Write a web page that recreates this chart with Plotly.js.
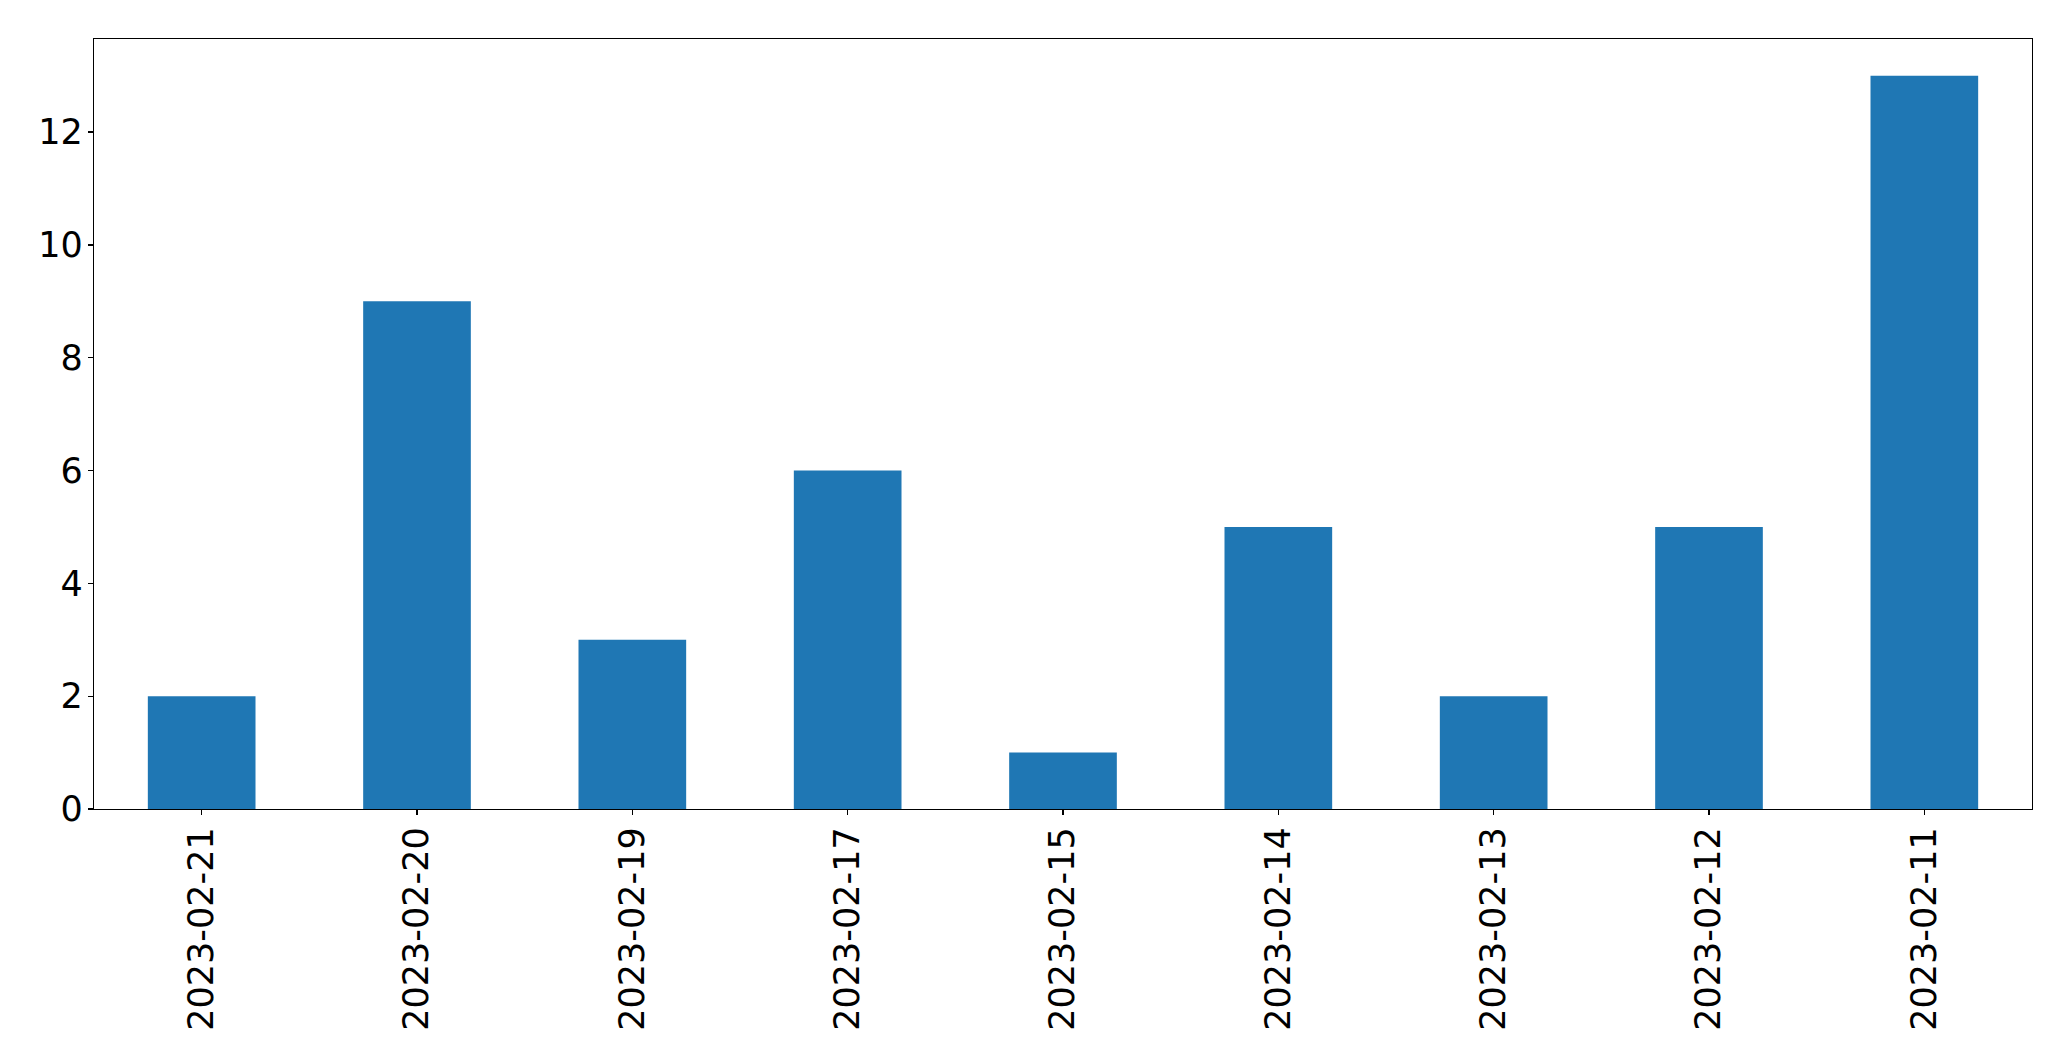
<!DOCTYPE html>
<html>
<head>
<meta charset="utf-8">
<script src="https://cdn.plot.ly/plotly-3.0.1.min.js"></script>
<style>html,body{margin:0;padding:0;background:#fff;}#chart{width:2071px;height:1061px;}</style>
</head>
<body>
<div id="chart"></div>
<script>
const dates = ["2023-02-21","2023-02-20","2023-02-19","2023-02-17","2023-02-15","2023-02-14","2023-02-13","2023-02-12","2023-02-11"];
const counts = [2, 9, 3, 6, 1, 5, 2, 5, 13];
const yTicks = [0, 2, 4, 6, 8, 10, 12];

const trace = {
  type: 'bar',
  x: dates,
  y: counts,
  width: 0.5,
  marker: {color: '#1f77b4', line: {width: 0}},
  hoverinfo: 'x+y'
};

const axisCommon = {
  showline: true, linecolor: '#000', linewidth: 1.3, mirror: true,
  ticks: 'outside', ticklen: 5, tickwidth: 1.3, tickcolor: '#000',
  showgrid: false, zeroline: false,
  tickfont: {family: 'DejaVu Sans', size: 35, color: '#000'}
};

const layout = {
  width: 2071, height: 1061,
  margin: {l: 94, r: 39, t: 39, b: 252, pad: 0},
  paper_bgcolor: '#fff', plot_bgcolor: '#fff',
  showlegend: false,
  font: {family: 'DejaVu Sans', size: 35, color: '#000'},
  xaxis: Object.assign({}, axisCommon, {
    type: 'category', range: [-0.5, dates.length - 0.5], tickangle: -90,
    ticklabelstandoff: -2
  }),
  yaxis: Object.assign({}, axisCommon, {
    range: [0, 13.65], tickvals: yTicks, ticktext: yTicks.map(String),
    ticklabelstandoff: -2
  })
};

Plotly.newPlot('chart', [trace], layout, {displayModeBar: false, staticPlot: true});
</script>
</body>
</html>
